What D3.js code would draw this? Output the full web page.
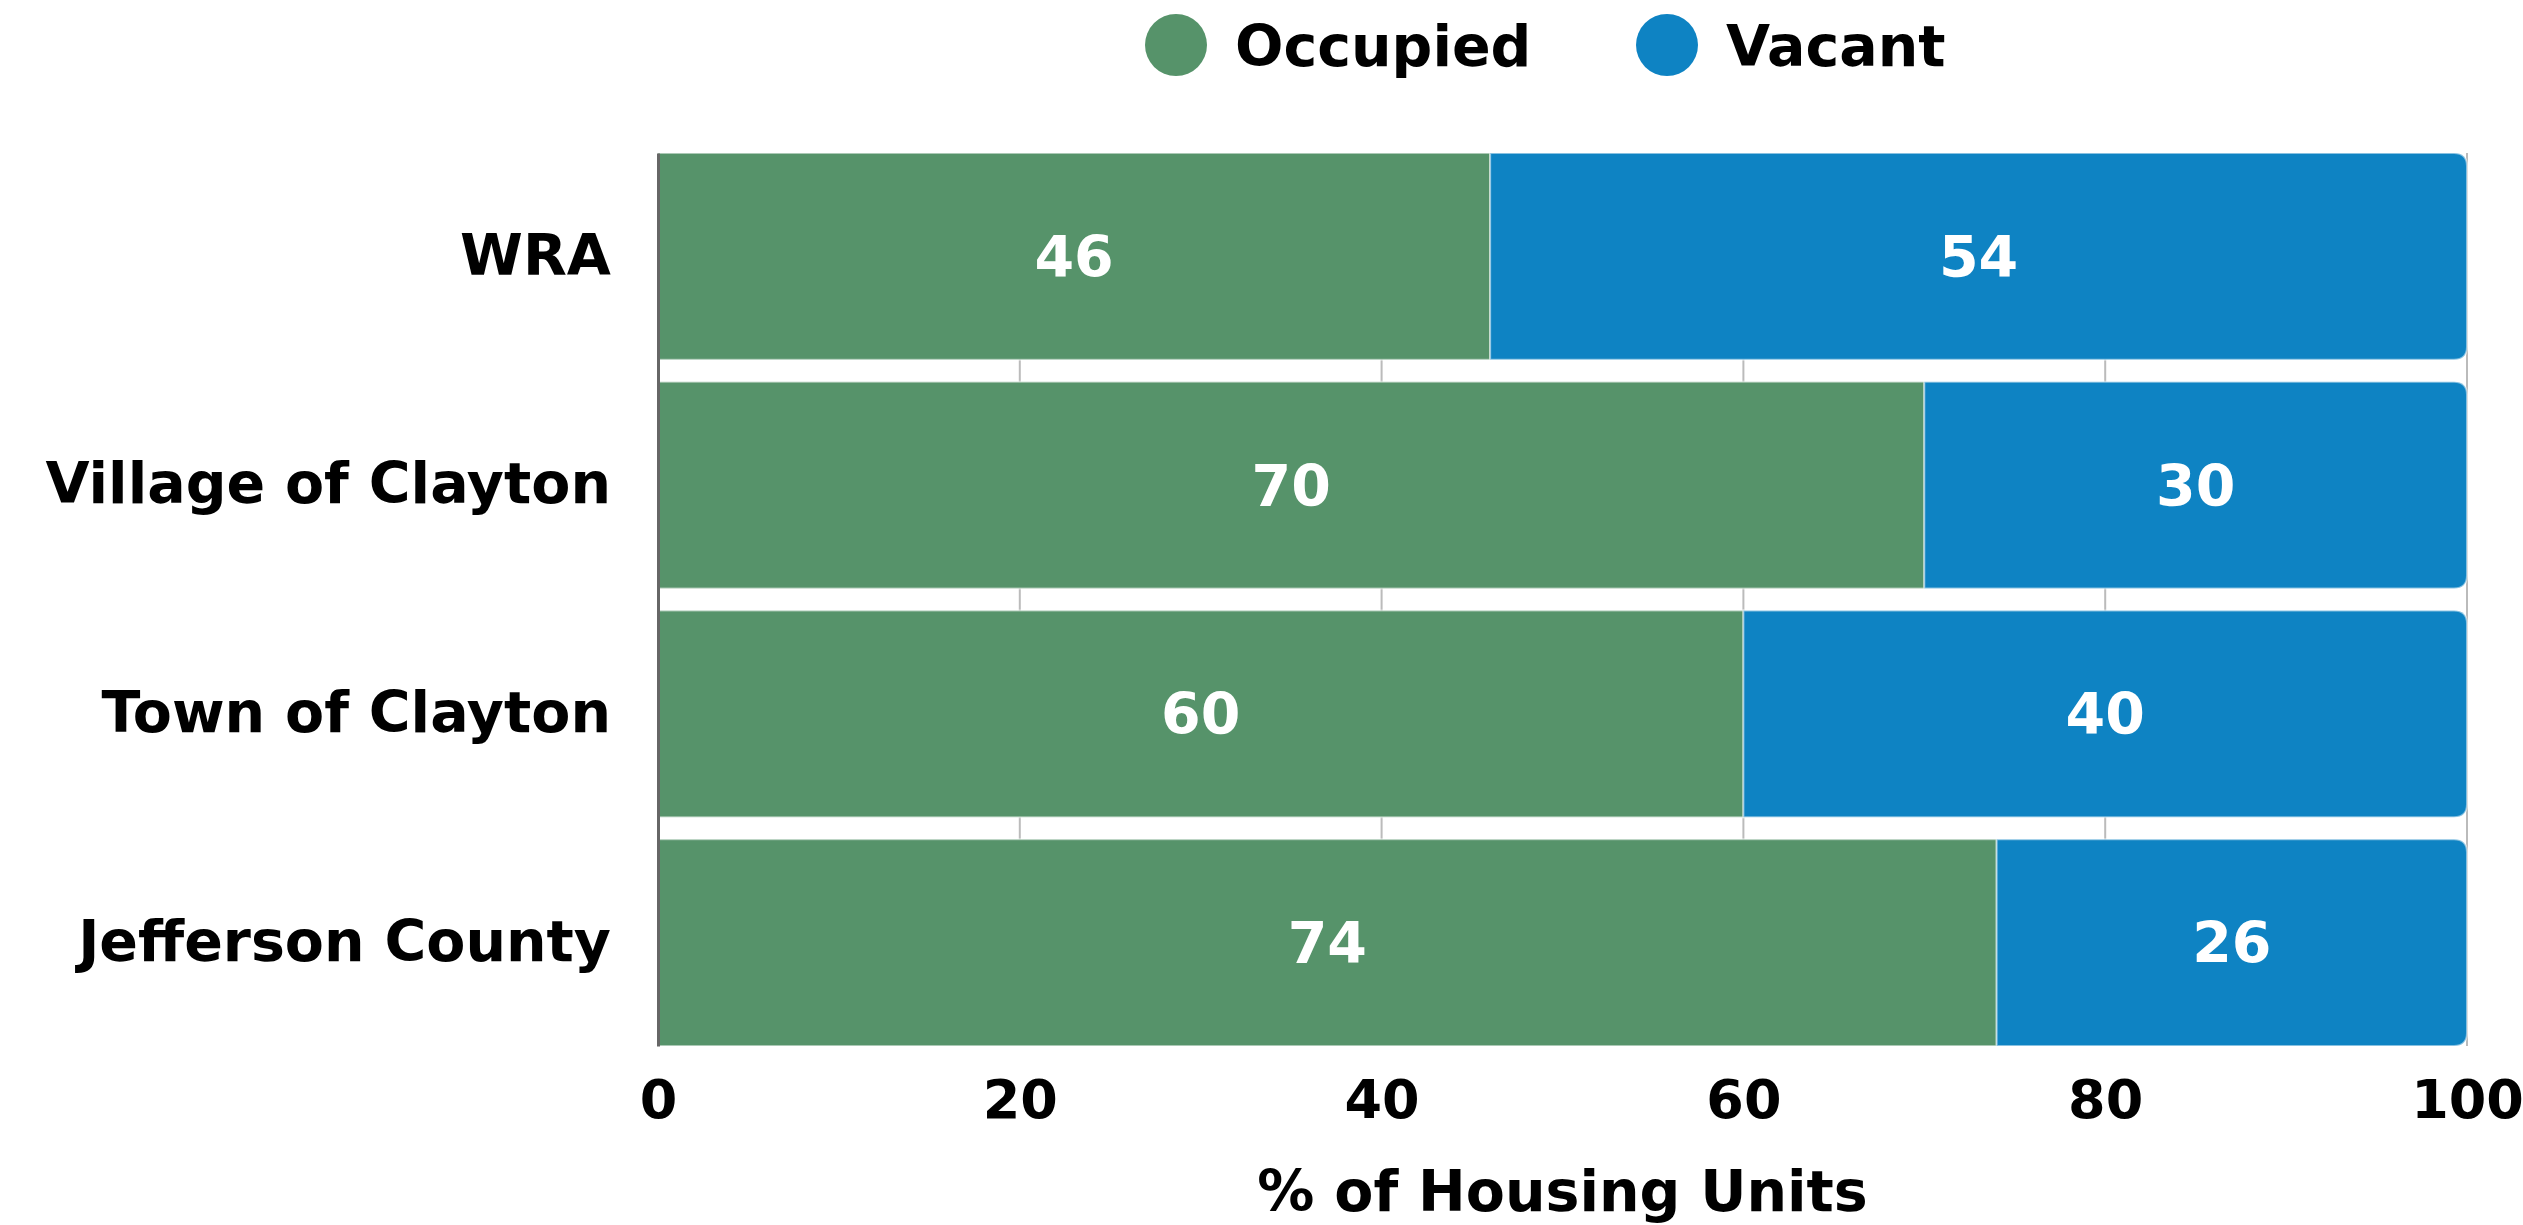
<!DOCTYPE html>
<html>
<head>
<meta charset="utf-8">
<script src="https://cdn.jsdelivr.net/npm/d3@7"></script>
<style>
  body { margin: 0; background: #fff; }
  svg text { font-family: "DejaVu Sans", Verdana, sans-serif; font-weight: bold; }
</style>
</head>
<body>
<svg id="chart" width="2523" height="1225"></svg>
<script>
// data
const categories = ["WRA", "Village of Clayton", "Town of Clayton", "Jefferson County"];
const occupied = [46, 70, 60, 74];
const vacant = [54, 30, 40, 26];
const seriesNames = ["Occupied", "Vacant"];
const colors = ["#56936a", "#0e83c3"];
const xTicks = [0, 20, 40, 60, 80, 100];

const svg = d3.select("#chart");
const margin = { top: 153, right: 56, bottom: 179, left: 658 };
const W = 2523, H = 1225;
const innerW = W - margin.left - margin.right;
const innerH = H - margin.top - margin.bottom;

const x = d3.scaleLinear().domain([0, 100]).range([0, innerW]);
const y = d3.scaleBand().domain(categories).range([0, innerH]).paddingInner(0.096).paddingOuter(0);

const g = svg.append("g").attr("transform", `translate(${margin.left},${margin.top})`);

// grid
g.append("g").selectAll("line")
  .data(xTicks.slice(1))
  .join("line")
    .attr("x1", d => x(d)).attr("x2", d => x(d))
    .attr("y1", 0).attr("y2", innerH)
    .attr("stroke", "#bbb")
    .attr("stroke-width", 2);

const rows = categories.map((c, i) => ({ cat: c, occ: occupied[i], vac: vacant[i] }));

function roundRight(x0, y0, w, h, r) {
  return `M${x0},${y0}H${x0 + w - r}Q${x0 + w},${y0} ${x0 + w},${y0 + r}V${y0 + h - r}Q${x0 + w},${y0 + h} ${x0 + w - r},${y0 + h}H${x0}Z`;
}

const row = g.selectAll("g.row").data(rows).join("g").attr("class", "row");

row.append("rect")
  .attr("x", 0)
  .attr("y", d => y(d.cat))
  .attr("width", d => x(d.occ))
  .attr("height", y.bandwidth())
  .attr("fill", colors[0])
  .attr("stroke", "#fff").attr("stroke-opacity", 0.5).attr("stroke-width", 2);

row.append("path")
  .attr("d", d => roundRight(x(d.occ), y(d.cat), x(d.occ + d.vac) - x(d.occ), y.bandwidth(), 13))
  .attr("fill", colors[1])
  .attr("stroke", "#fff").attr("stroke-opacity", 0.5).attr("stroke-width", 2);

// value labels
row.append("text")
  .attr("x", d => x(d.occ / 2))
  .attr("y", d => y(d.cat) + y.bandwidth() / 2)
  .attr("text-anchor", "middle").attr("dy", "0.36em")
  .attr("fill", "#fff").attr("font-size", 57)
  .text(d => d.occ);
row.append("text")
  .attr("x", d => x(d.occ + d.vac / 2))
  .attr("y", d => y(d.cat) + y.bandwidth() / 2)
  .attr("text-anchor", "middle").attr("dy", "0.36em")
  .attr("fill", "#fff").attr("font-size", 57)
  .text(d => d.vac);

// left axis
const yAxis = g.append("g").call(d3.axisLeft(y).tickSize(0).tickPadding(47));
yAxis.select(".domain").attr("stroke", "#666").attr("stroke-width", 3);
yAxis.selectAll("text").attr("font-size", 57).attr("fill", "#000")
  .attr("font-family", "DejaVu Sans").attr("font-weight", "bold");

// bottom axis
const xAxis = g.append("g").attr("transform", `translate(0,${innerH})`)
  .call(d3.axisBottom(x).tickValues(xTicks).tickSize(0).tickPadding(34));
xAxis.select(".domain").remove();
xAxis.selectAll("text").attr("font-size", 54).attr("fill", "#000")
  .attr("font-family", "DejaVu Sans").attr("font-weight", "bold");

g.append("text")
  .attr("x", innerW / 2)
  .attr("y", H - margin.top - 14)
  .attr("text-anchor", "middle")
  .attr("font-size", 57)
  .text("% of Housing Units");

// legend
const legX = [1176, 1667];
const legend = svg.append("g").selectAll("g").data(seriesNames).join("g")
  .attr("transform", (d, i) => `translate(${legX[i]},45)`);
legend.append("circle").attr("r", 31).attr("fill", (d, i) => colors[i]);
legend.append("text")
  .attr("x", 59).attr("dy", "0.36em")
  .attr("font-size", 57)
  .text(d => d);
</script>
</body>
</html>
